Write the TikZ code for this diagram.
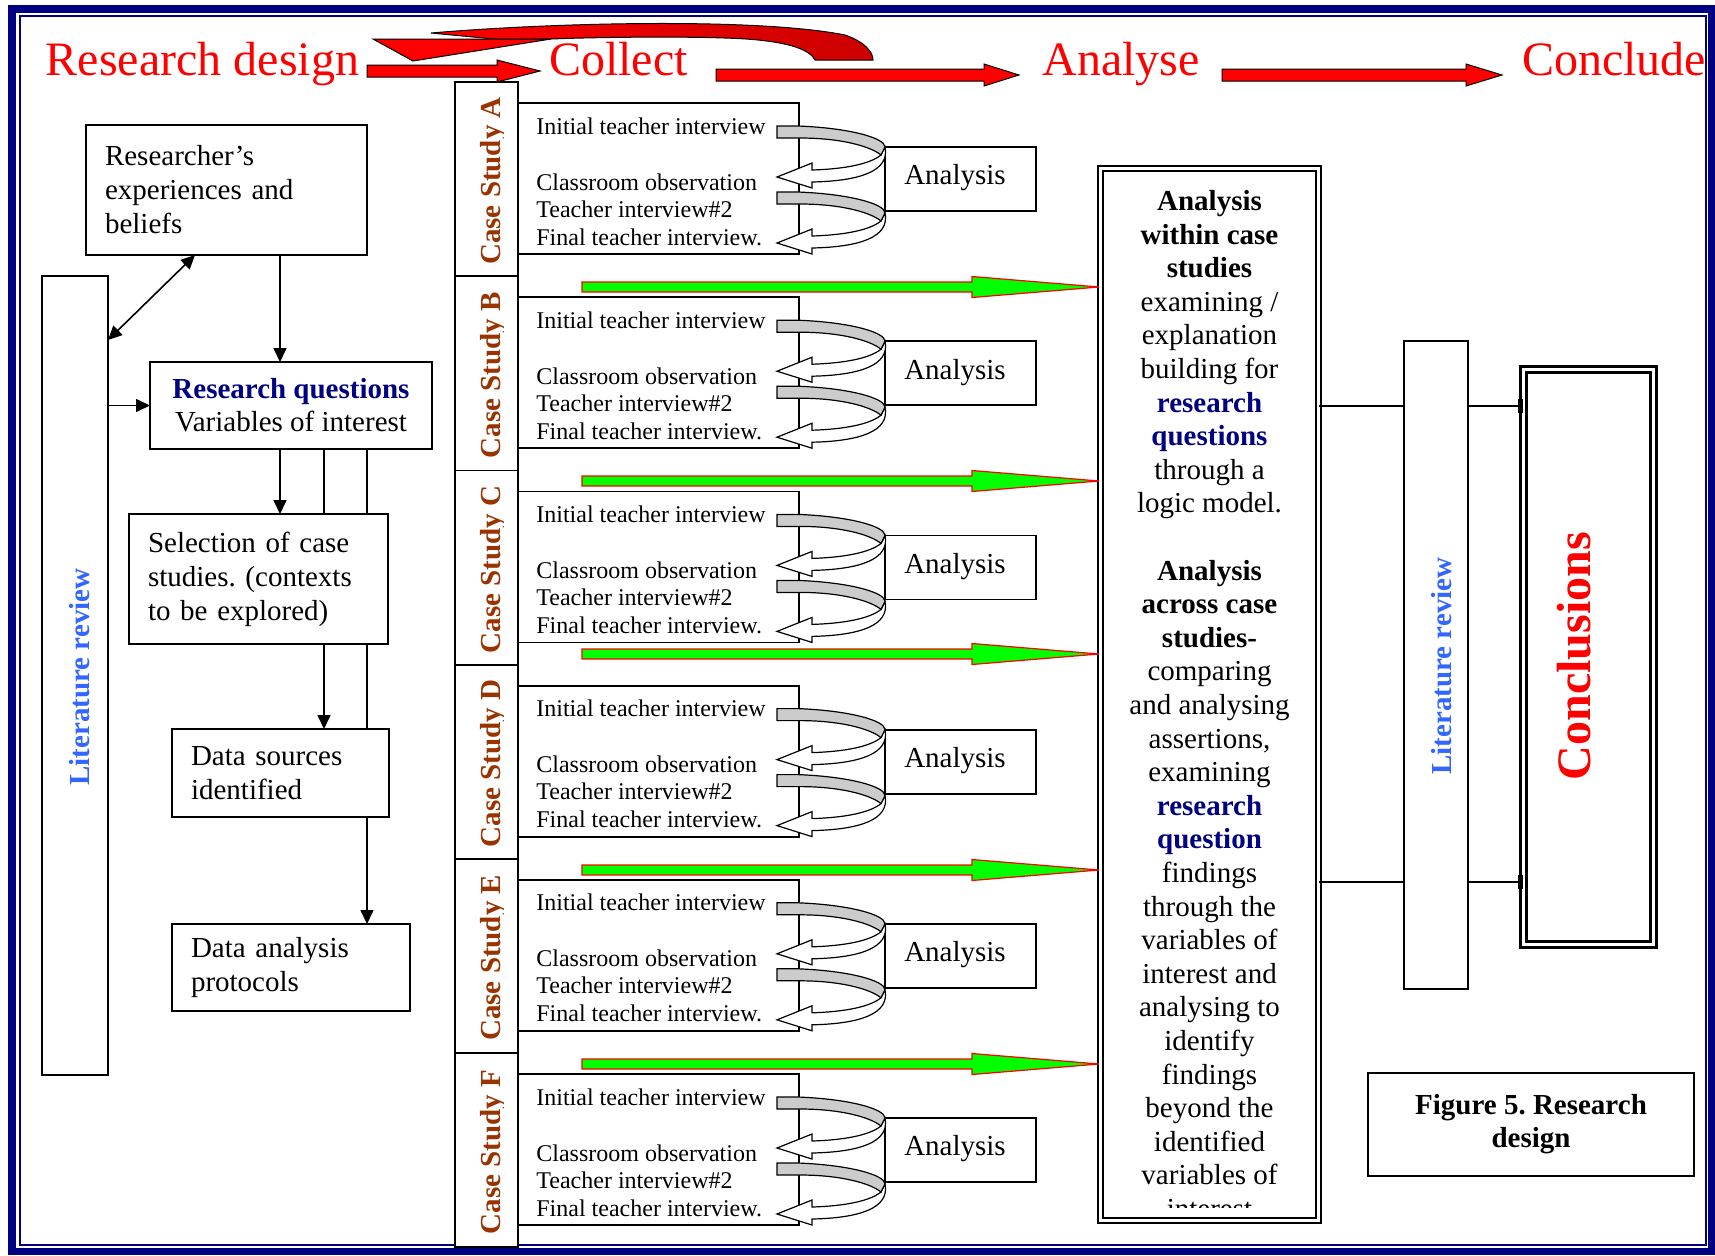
\documentclass[tikz,border=0pt]{standalone}
\usepackage{fontspec}
\setmainfont{Liberation Serif}
\usetikzlibrary{arrows.meta}
\definecolor{navy}{RGB}{0,0,128}
\definecolor{litblue}{RGB}{51,102,255}
\definecolor{csbrown}{RGB}{153,51,0}
\definecolor{darkred}{RGB}{204,0,0}
\definecolor{lgreen}{RGB}{0,255,0}
\frenchspacing

% flat block arrow: style, x start, x tip, y, half body, half head, head length
\newcommand{\fatarrow}[7]{\draw[#1] (#2,#4-#5) -- (#3-#7,#4-#5) -- (#3-#7,#4-#6) -- (#3,#4) -- (#3-#7,#4+#6) -- (#3-#7,#4+#5) -- (#2,#4+#5) -- cycle;}
% turning arrow from the interviews to the analysis and back
\newcommand{\uturn}[1]{%
\draw[fill=white,line width=0.6pt] (881,#1+29) .. controls (870,#1+38) and (845,#1+43) .. (812,#1+44) -- (812,#1+37) -- (777,#1+51) -- (812,#1+62) -- (812,#1+56) .. controls (860,#1+55) and (890,#1+45) .. (885,#1+21) -- cycle;
\draw[fill=black!20,line width=0.6pt] (777,#1) -- (798,#1) .. controls (850,#1+2) and (885,#1+12) .. (885,#1+21) -- (881,#1+29) .. controls (870,#1+20) and (840,#1+12) .. (800,#1+12) -- (777,#1+12) -- cycle;}

\begin{document}
\begin{tikzpicture}[x=0.5pt,y=-0.5pt,
  box/.style={draw,fill=white,line width=0.9pt,inner sep=0pt,outer sep=0pt},
  lbox/.style={box,inner xsep=9.5pt,align=left,font=\fontsize{14.5}{17}\selectfont},
  dbox/.style={draw,double,double distance=1.5pt,line width=1pt,fill=white,inner sep=0pt,outer sep=0pt},
  item/.style={inner sep=0pt,font=\fontsize{12}{14}\selectfont},
  ttl/.style={text=red,inner sep=0pt,anchor=base,font=\fontsize{24}{28}\selectfont},
  littext/.style={rotate=90,inner sep=0pt,text=litblue,font=\fontsize{14.5}{17}\selectfont\bfseries},
  cstext/.style={rotate=90,inner sep=0pt,text=csbrown,font=\fontsize{14.5}{17}\selectfont\bfseries},
  arr/.style={line width=0.8pt,-{Triangle[length=7pt,width=6.5pt]}},
  redarrow/.style={fill=red,draw=black,line width=0.5pt},
  greenarrow/.style={fill=lgreen,draw=red,line width=0.6pt}]
\useasboundingbox (0,0) rectangle (1715,1255);
\draw[navy,line width=3.75pt] (12,9) rectangle (1711.5,1251.5);
\draw[navy,line width=1pt] (19.5,16) rectangle (1705.5,1244.5);

% headings
\node[ttl] (tdesign) at (202.5,75) {Research design};
\node[ttl] (tcollect) at (618.5,75) {Collect};
\node[ttl] (tanalyse) at (1121,75) {Analyse};
\node[ttl] (tconclude) at (1614,75) {Conclude};
\fatarrow{redarrow}{367}{540}{71}{6}{11}{43}
\fatarrow{redarrow}{716}{1019}{75}{6}{11}{35}
\fatarrow{redarrow}{1222}{1502}{75}{6}{11}{36}
\draw[left color=red,right color=darkred,line width=0.5pt] (431,33) .. controls (560,22) and (760,18) .. (845,35) .. controls (865,42) and (873,52) .. (873,60) -- (815,60) .. controls (810,50) and (790,42) .. (746,39) .. controls (700,36) and (600,37) .. (551,39) -- (494,39) -- cycle;
\draw[fill=red,line width=0.5pt] (373,39) -- (413,61) -- (551,39) -- cycle;

% design column
\node[lbox,text width=121.5pt,minimum height=65pt] (res) at (226.5,190) {Researcher’s\\experiences and\\beliefs};
\node[box,align=center,minimum width=141pt,minimum height=43.5pt,font=\fontsize{14.5}{16.5}\selectfont] (rq) at (291,405.5) {\textcolor{navy}{\textbf{Research questions}}\\Variables of interest};
\node[lbox,text width=110.5pt,minimum height=65pt] (sel) at (258.5,579) {Selection of case\\studies. (contexts\\to be explored)};
\node[lbox,text width=89.5pt,minimum height=44pt] (ds) at (280.5,773) {Data sources\\identified};
\node[lbox,text width=100pt,minimum height=43.5pt] (dap) at (291,967.5) {Data analysis\\protocols};
\node[box,minimum width=33pt,minimum height=399.5pt] (litL) at (75,675.5) {};
\node[littext] (litLtxt) at (80,677) {Literature review};
\draw[line width=0.8pt,{Triangle[length=7pt,width=6.5pt]}-{Triangle[length=7pt,width=6.5pt]}] (litL.east |- 0,340) -- (res.south -| 195,0);
\draw[arr] (litL.east |- rq.west) -- (rq.west);
\foreach \from/\to/\xx in {rq/sel/324,rq/sel/367,sel/ds/367}
\draw[line width=0.8pt] (\from.south -| \xx,0) -- (\to.north -| \xx,0);
\foreach \from/\to/\xx in {res/rq/280,rq/sel/280,sel/ds/324,ds/dap/367}
\draw[arr] (\from.south -| \xx,0) -- (\to.north -| \xx,0);

% analysis box
\node[dbox,minimum width=109pt,minimum height=526pt] (mid) at (1209.5,694) {};
\begin{scope}
\clip (mid.north west) rectangle ([yshift=6.5pt]mid.south east);
\node[inner sep=0pt,anchor=north,align=center,font=\fontsize{14.5}{16.8}\selectfont] (midtxt) at (1209.5,190) {\textbf{Analysis}\\\textbf{within case}\\\textbf{studies}\\examining /\\explanation\\building for\\\textcolor{navy}{\textbf{research}}\\\textcolor{navy}{\textbf{questions}}\\through a\\logic model.\\[16.8pt]\textbf{Analysis}\\\textbf{across case}\\\textbf{studies-}\\comparing\\and analysing\\assertions,\\examining\\\textcolor{navy}{\textbf{research}}\\\textcolor{navy}{\textbf{question}}\\findings\\through the\\variables of\\interest and\\analysing to\\identify\\findings\\beyond the\\identified\\variables of\\interest};
\end{scope}

% case studies
\foreach \i/\csl in {0/A,1/B,2/C,3/D,4/E,5/F}{
\pgfmathsetmacro\yt{82+194.2*\i}
\node[box,minimum width=31.5pt,minimum height=97.1pt] (cs\csl) at (486.5,\yt+97.1) {};
\begin{scope}
\clip (cs\csl.north west) rectangle ([xshift=-7.5pt]cs\csl.south east);
\node[cstext] (lbl\csl) at (494,\yt+99) {Case Study \csl};
\end{scope}
\node[box,minimum width=140.5pt,minimum height=75.5pt] (tb\csl) at (658.5,\yt+96.5) {};
\foreach \dy/\txt in {52/Initial teacher interview,108/Classroom observation,135/Teacher interview\#2,163/Final teacher interview.}
\node[item,anchor=base west] (it\csl\dy) at (536,\yt+\dy) {\txt};
\node[box,minimum width=75.5pt,minimum height=32pt] (an\csl) at (960.5,\yt+97) {};
\node[inner sep=0pt,font=\fontsize{14.5}{17}\selectfont] (ant\csl) at (955,\yt+96) {Analysis};
\uturn{\yt+44}
\uturn{\yt+110}
}
\foreach \gy in {287,481,654,870,1064}{
\fatarrow{greenarrow}{582}{1099}{\gy}{5}{10.5}{127}
}

% conclusions
\node[box,minimum width=32pt,minimum height=324pt] (litR) at (1436,665) {};
\node[littext] (litRtxt) at (1442,666) {Literature review};
\node[dbox,line width=1.5pt,minimum width=65pt,minimum height=287.5pt] (concl) at (1588,656.5) {};
\node[rotate=90,inner sep=0pt,text=red,font=\fontsize{24}{28}\selectfont\bfseries] (concltxt) at (1574,656) {Conclusions};
\foreach \cy in {406,882}{
\draw[line width=0.8pt] (mid.east |- 0,\cy) -- (litR.west |- 0,\cy);
\draw[line width=0.8pt,-{Rectangle[length=2.5pt,width=7pt]}] (litR.east |- 0,\cy) -- (concl.west |- 0,\cy);
}
\node[box,line width=1.2pt,align=center,minimum width=163pt,minimum height=51.5pt,font=\fontsize{14.5}{16.5}\selectfont\bfseries] (cap) at (1531,1124.5) {Figure 5. Research\\design};
\end{tikzpicture}
\end{document}
